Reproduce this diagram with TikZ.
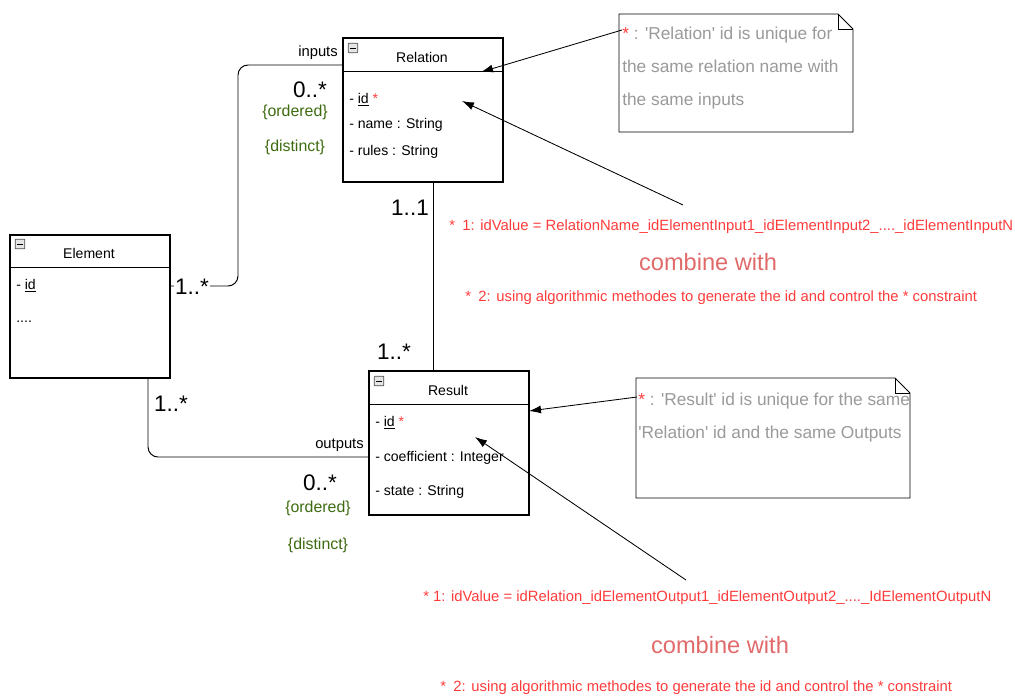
\documentclass[tikz,border=0pt]{standalone}
\usepackage{fontspec}
\setmainfont{Liberation Sans}
\usepackage{xcolor}
\usepackage{tikz}
\usetikzlibrary{positioning,arrows.meta}

\definecolor{starred}{HTML}{FF3B3B}
\definecolor{combinered}{HTML}{E06A6A}
\definecolor{notegray}{HTML}{9A9A9A}
\definecolor{constrgreen}{HTML}{3D6B0F}

\begin{document}
\begin{tikzpicture}[x=0.025cm, y=-0.025cm,
  classbox/.style={draw, line width=0.8pt, minimum width=4cm, inner sep=0pt},
  iconbox/.style={draw=gray!60!black, fill=gray!20, rounded corners=0.6pt, minimum size=0.24cm, inner sep=0pt, line width=0.5pt},
  classname/.style={font=\fontsize{10}{12}\selectfont},
  attr/.style={anchor=west, inner sep=0pt, font=\fontsize{10}{12}\selectfont},
  mult/.style={inner sep=0pt, font=\fontsize{16}{18}\selectfont},
  role/.style={inner sep=0pt, font=\fontsize{10.5}{12}\selectfont},
  constr/.style={inner sep=0pt, text=constrgreen, font=\fontsize{11.3}{13}\selectfont},
  assoc/.style={line width=0.7pt, rounded corners=0.25cm},
  pointer/.style={-{Latex[length=0.3cm,width=0.2cm]}, line width=0.6pt},
  notebody/.style={draw, line width=0.7pt, fill=white},
  notetext/.style={anchor=north west, inner sep=0pt, align=left, text=notegray, font=\fontsize{12.3}{23.5}\selectfont},
  redtext/.style={anchor=west, inner sep=0pt, text=starred, font=\fontsize{10.55}{12}\selectfont},
  combine/.style={inner sep=0pt, text=combinered, font=\fontsize{16.8}{19}\selectfont}]
\useasboundingbox (0,0) rectangle (1015,698);

% classes
\node[classbox, minimum height=3.6cm] (rel) at (423,110) {};
\draw[line width=0.8pt] (rel.north west) ++(0,34) -- ++(160,0);
\node[iconbox] (relicon) at (353,48) {\rule{0.13cm}{0.6pt}};
\node[classname] (relname) at (422,57) {Relation};
\node[attr] (relid) at (349,100) {- \underline{id} \textcolor{starred}{*}};
\node[attr] (relnm) at (349,125) {- name : String};
\node[attr] (relrules) at (349,152) {- rules : String};

\node[classbox, minimum height=3.575cm] (el) at (90,306.5) {};
\draw[line width=0.8pt] (el.north west) ++(0,33) -- ++(160,0);
\node[iconbox] (elicon) at (20,244) {\rule{0.13cm}{0.6pt}};
\node[classname] (elname) at (89,253) {Element};
\node[attr] (elid) at (16,286) {- \underline{id}};
\node[attr] (eldots) at (16,322) {....};

\node[classbox, minimum height=3.6cm] (res) at (449,443) {};
\draw[line width=0.8pt] (res.north west) ++(0,34) -- ++(160,0);
\node[iconbox] (resicon) at (379,381) {\rule{0.13cm}{0.6pt}};
\node[classname] (resname) at (448,390) {Result};
\node[attr] (resid) at (375,423) {- \underline{id} \textcolor{starred}{*}};
\node[attr] (rescoef) at (375,458) {- coefficient : Integer};
\node[attr] (resstate) at (375,492) {- state : String};

% associations
\coordinate (inbend) at (238,65);
\coordinate (outbend) at (148,457);
\coordinate (vert) at (433,0);
\draw[assoc] (el.east |- elid) -| (inbend) -- (rel.west |- inbend);
\draw[assoc] (el.south -| outbend) |- (res.west |- outbend);
\draw[line width=0.7pt] (rel.south -| vert) -- (res.north -| vert);

\node[role, anchor=south east] (inlbl) at (338,60) {inputs};
\node[mult] (inmult) at (310,90) {0..*};
\node[constr] (inord) at (295,112) {\{ordered\}};
\node[constr] (indist) at (295,147) {\{distinct\}};
\node[mult, fill=white, inner sep=1pt] (elinmult) at (192,287) {1..*};

\node[mult] (relmult) at (410,208) {1..1};
\node[mult] (resmult) at (394,352) {1..*};

\node[mult] (eloutmult) at (171,404) {1..*};
\node[role, anchor=south east] (outlbl) at (364,452) {outputs};
\node[mult] (outmult) at (320,483) {0..*};
\node[constr] (outord) at (318,508) {\{ordered\}};
\node[constr] (outdist) at (318,545) {\{distinct\}};

% notes
\draw[notebody] (619,14) -- (838,14) -- (853,29) -- (853,132) -- (619,132) -- cycle;
\draw[line width=0.6pt] (838,14) -- (838,29) -- (853,29);
\node[notetext] (note1) at (622,27) {\textcolor{starred}{*} : \textquotesingle Relation\textquotesingle{} id is unique for\\the same relation name with\\the same inputs};

\draw[notebody] (636,378) -- (895,378) -- (910,393) -- (910,498) -- (636,498) -- cycle;
\draw[line width=0.6pt] (895,378) -- (895,393) -- (910,393);
\node[notetext] (note2) at (638,393) {\textcolor{starred}{*} : \textquotesingle Result\textquotesingle{} id is unique for the same\\\textquotesingle Relation\textquotesingle{} id and the same Outputs};

% id rules
\node[redtext] (relrule1) at (449,227) {*\enspace 1: idValue = RelationName\_idElementInput1\_idElementInput2\_....\_idElementInputN};
\node[combine] (relcomb) at (708,262) {combine with};
\node[redtext] (relrule2) at (465,298) {*\enspace 2: using algorithmic methodes to generate the id and control the * constraint};

\node[redtext] (resrule1) at (423,598) {* 1: idValue = idRelation\_idElementOutput1\_idElementOutput2\_....\_IdElementOutputN};
\node[combine] (rescomb) at (720,645) {combine with};
\node[redtext] (resrule2) at (440,688) {*\enspace 2: using algorithmic methodes to generate the id and control the * constraint};

% pointers
\coordinate (n1start) at (622,30);
\coordinate (reltip) at (481,72);
\coordinate (r1start) at (683,205);
\coordinate (relidtip) at (462,101);
\coordinate (n2start) at (637,397);
\coordinate (restip) at (529,411);
\coordinate (r2start) at (686,580);
\coordinate (residtip) at (475,437);
\draw[pointer] (n1start) -- (reltip);
\draw[pointer] (r1start) -- (relidtip);
\draw[pointer] (n2start) -- (restip);
\draw[pointer] (r2start) -- (residtip);
\end{tikzpicture}
\end{document}
